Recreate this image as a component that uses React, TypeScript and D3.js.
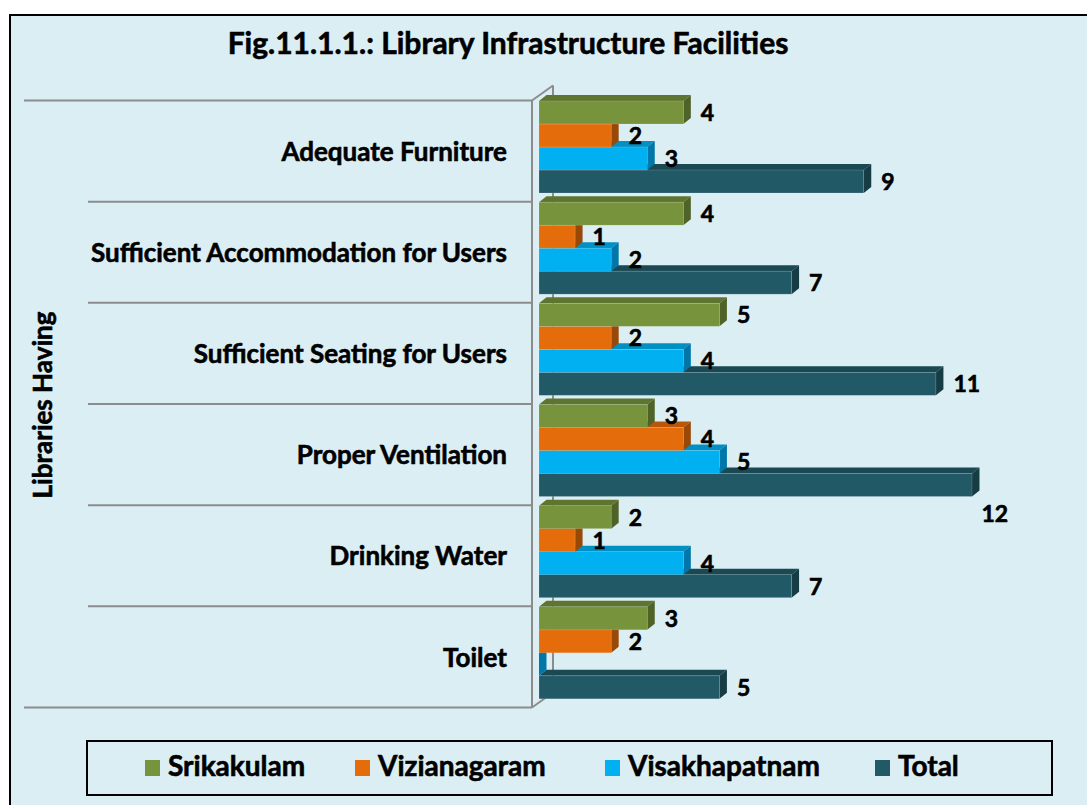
import React from "react";
import * as d3 from "d3";

const categories = [
  "Adequate Furniture",
  "Sufficient Accommodation for Users",
  "Sufficient Seating for Users",
  "Proper Ventilation",
  "Drinking Water",
  "Toilet",
];
const seriesNames = ["Srikakulam", "Vizianagaram", "Visakhapatnam", "Total"];
const srikakulam = [4, 4, 5, 3, 2, 3];
const vizianagaram = [2, 1, 2, 4, 1, 2];
const visakhapatnam = [3, 2, 4, 5, 4, 0];
const total = [9, 7, 11, 12, 7, 5];
const seriesValues = [srikakulam, vizianagaram, visakhapatnam, total];

const title = "Fig.11.1.1.: Library Infrastructure Facilities";
const yAxisTitle = "Libraries Having";

const front = ["#77933C", "#E46C0A", "#00B0F0", "#215967"];
const topFace = ["#5E7530", "#B85709", "#0090C4", "#1A4853"];
const sideFace = ["#4F6228", "#984807", "#0077A8", "#163C45"];

const FONT = "Lato, 'Open Sans', sans-serif";
const BG = "#DBEEF4";

export default function App() {
  const W = 1087;
  const H = 805;
  const x = d3.scaleLinear().domain([0, 12]).range([539, 972]);
  const y = d3.scaleBand<string>().domain(categories).range([100.5, 707.5]);
  const barH = 23;
  const dx = 7.5;
  const dy = 6;
  const axisX = 532;
  const wallDx = 21;
  const wallDy = 15;
  const plotRight = 985;
  const heavy = { stroke: "#000", strokeWidth: 0.6 };

  const bars: React.ReactNode[] = [];
  const labels: React.ReactNode[] = [];
  for (let c = categories.length - 1; c >= 0; c--) {
    const cat = categories[c];
    const b0 = (y(cat) as number) + 0.5;
    for (let s = seriesNames.length - 1; s >= 0; s--) {
      const v = seriesValues[s][c];
      const y0 = b0 + s * barH;
      const y1 = y0 + barH;
      const x0 = x(0);
      const x1 = x(v);
      const side = `${x1},${y0} ${x1 + dx},${y0 - dy} ${x1 + dx},${y1 - dy} ${x1},${y1}`;
      const top = `${x0},${y0} ${x0 + dx},${y0 - dy} ${x1 + dx},${y0 - dy} ${x1},${y0}`;
      bars.push(
        <g key={`b-${c}-${s}`}>
          <polygon points={top} fill={topFace[s]} />
          <polygon points={side} fill={sideFace[s]} />
          {v > 0 && (
            <rect x={x0} y={y0} width={x1 - x0} height={barH} fill={front[s]} stroke="rgba(255,255,255,0.25)" strokeWidth={0.6} />
          )}
        </g>
      );
      if (v > 0) {
        let lx = x1 + dx + 10;
        let ly = (y0 + y1) / 2 + 2.5;
        const approxW = String(v).length * 12;
        if (lx + approxW > plotRight + 20) {
          lx = x1 + dx + 2;
          ly = y1 + 20;
        }
        labels.push(
          <text key={`l-${c}-${s}`} x={lx} y={ly} dominantBaseline="middle" fontFamily={FONT} fontWeight="bold" fontSize={23} fill="#000" {...heavy}>
            {v}
          </text>
        );
      }
    }
  }

  const bounds = [...categories.map((c) => y(c) as number), y.range()[1]];

  const legendItems = [
    { sx: 145, tx: 168 },
    { sx: 355, tx: 378 },
    { sx: 605, tx: 628 },
    { sx: 875, tx: 898 },
  ];

  return (
    <svg width={W} height={H} style={{ position: "absolute", left: 0, top: 0 }} xmlns="http://www.w3.org/2000/svg">
      <rect x={0} y={0} width={W} height={H} fill="#ffffff" />
      <rect x={10} y={15} width={1100} height={820} fill={BG} stroke="#000" strokeWidth={2} />
      <text x={508} y={46} textAnchor="middle" dominantBaseline="middle" fontFamily={FONT} fontWeight="bold" fontSize={30} fill="#000" {...heavy}>
        {title}
      </text>

      <line x1={axisX + wallDx} y1={bounds[0] - wallDy} x2={axisX + wallDx} y2={bounds[bounds.length - 1] - wallDy} stroke="#8C8C8C" strokeWidth={2} />
      <line x1={axisX} y1={bounds[0]} x2={axisX + wallDx} y2={bounds[0] - wallDy} stroke="#8C8C8C" strokeWidth={2} />
      <line x1={axisX} y1={bounds[bounds.length - 1]} x2={axisX + wallDx} y2={bounds[bounds.length - 1] - wallDy} stroke="#8C8C8C" strokeWidth={2} />

      {bounds.map((b, i) => (
        <line
          key={`sep-${i}`}
          x1={i === 0 || i === bounds.length - 1 ? 24 : 88}
          y1={b}
          x2={axisX}
          y2={b}
          stroke="#8C8C8C"
          strokeWidth={2}
        />
      ))}
      <line x1={axisX} y1={bounds[0]} x2={axisX} y2={bounds[bounds.length - 1]} stroke="#8C8C8C" strokeWidth={2} />

      {bars}
      {labels}

      {categories.map((c) => (
        <text
          key={`cat-${c}`}
          x={507}
          y={(y(c) as number) + y.bandwidth() / 2 + 3}
          textAnchor="end"
          dominantBaseline="middle"
          fontFamily={FONT}
          fontWeight="bold"
          fontSize={26}
          fill="#000"
          {...heavy}
        >
          {c}
        </text>
      ))}

      <text
        transform={`translate(45,405) rotate(-90)`}
        textAnchor="middle"
        dominantBaseline="middle"
        fontFamily={FONT}
        fontWeight="bold"
        fontSize={26}
        fill="#000"
        {...heavy}
      >
        {yAxisTitle}
      </text>

      <rect x={87} y={741} width={965} height={54} fill={BG} stroke="#000" strokeWidth={2} />
      {seriesNames.map((n, i) => (
        <g key={`leg-${n}`}>
          <rect x={legendItems[i].sx} y={760} width={15} height={16} fill={front[i]} />
          <text x={legendItems[i].tx} y={769} dominantBaseline="middle" fontFamily={FONT} fontWeight="bold" fontSize={28} fill="#000" {...heavy}>
            {n}
          </text>
        </g>
      ))}
    </svg>
  );
}
